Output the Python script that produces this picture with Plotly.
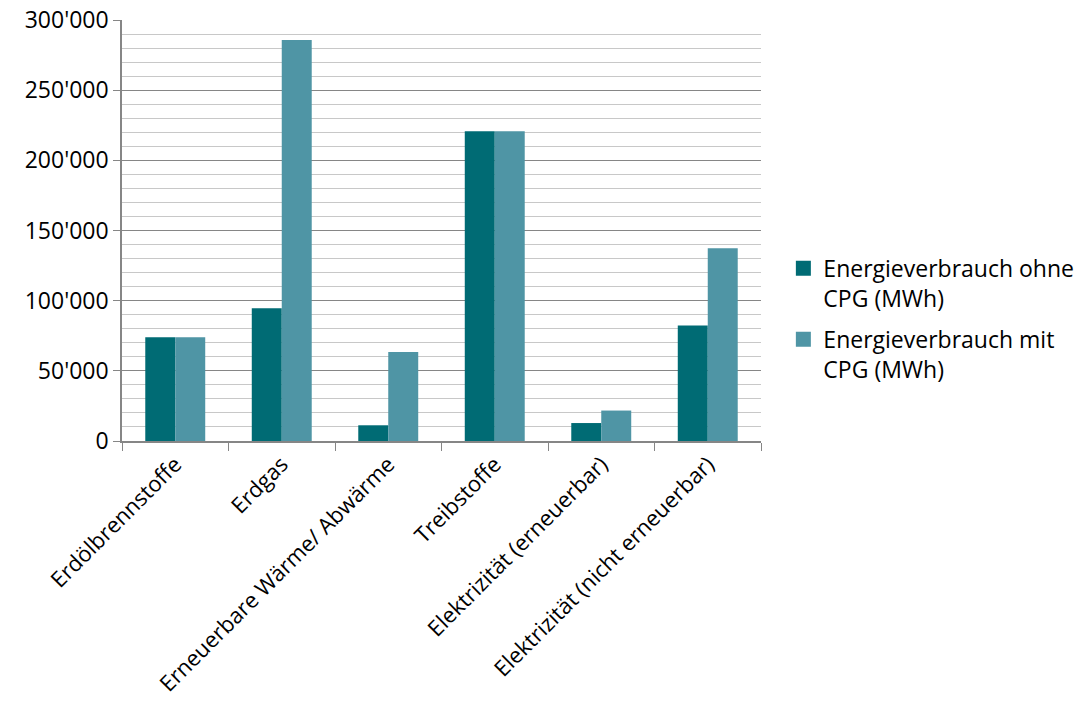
import plotly.graph_objects as go

categories = ["Erdölbrennstoffe", "Erdgas", "Erneuerbare Wärme/ Abwärme",
              "Treibstoffe", "Elektrizität (erneuerbar)", "Elektrizität (nicht erneuerbar)"]
ohne_cpg = [74000, 94600, 11200, 220800, 12800, 82300]
mit_cpg = [74000, 285700, 63500, 220800, 21700, 137400]
series_names = ["Energieverbrauch ohne<br>CPG (MWh)", "Energieverbrauch mit<br>CPG (MWh)"]
colors = ["#006B74", "#4F95A5"]
y_ticks = [0, 50000, 100000, 150000, 200000, 250000, 300000]
y_tick_labels = ["0", "50'000", "100'000", "150'000", "200'000", "250'000", "300'000"]

FONT = "Open Sans, sans-serif"

fig = go.Figure()
for vals, name, col in zip([ohne_cpg, mit_cpg], series_names, colors):
    fig.add_trace(go.Bar(x=categories, y=vals, name=name, legendgroup=name,
                         showlegend=False,
                         marker=dict(color=col, line=dict(width=0))))
# legend entries with larger square swatches
for name, col in zip(series_names, colors):
    fig.add_trace(go.Scatter(x=[None], y=[None], mode="markers", name=name,
                             legendgroup=name,
                             marker=dict(symbol="square", size=15, color=col)))

fig.update_layout(
    width=1080, height=715,
    margin=dict(l=122, r=319, t=20, b=274, autoexpand=False),
    paper_bgcolor="white", plot_bgcolor="white",
    barmode="group", bargap=0.437, bargroupgap=0,
    font=dict(family=FONT, size=23, color="black"),
    legend=dict(x=1.035, y=0.29, xanchor="left", yanchor="middle",
                font=dict(size=23, family=FONT), tracegroupgap=8,
                itemwidth=30, valign="top"),
    showlegend=True,
)
fig.update_xaxes(
    type="category", tickangle=-45, showline=True, linecolor="#868686", linewidth=1.5,
    ticks="outside", tickson="boundaries", ticklen=8, tickcolor="#868686",
    tickfont=dict(size=22, family=FONT), showgrid=False, automargin=False,
)
fig.update_yaxes(
    range=[0, 300000], tickvals=y_ticks, ticktext=y_tick_labels,
    showline=True, linecolor="#868686", linewidth=1.5,
    ticks="outside", ticklen=7, tickcolor="#868686",
    showgrid=True, gridcolor="#868686", gridwidth=1,
    minor=dict(dtick=10000, showgrid=True, gridcolor="#C8C8C8", gridwidth=1),
    tickfont=dict(size=23, family=FONT), zeroline=False, automargin=False,
)

fig.write_html("out.html")
